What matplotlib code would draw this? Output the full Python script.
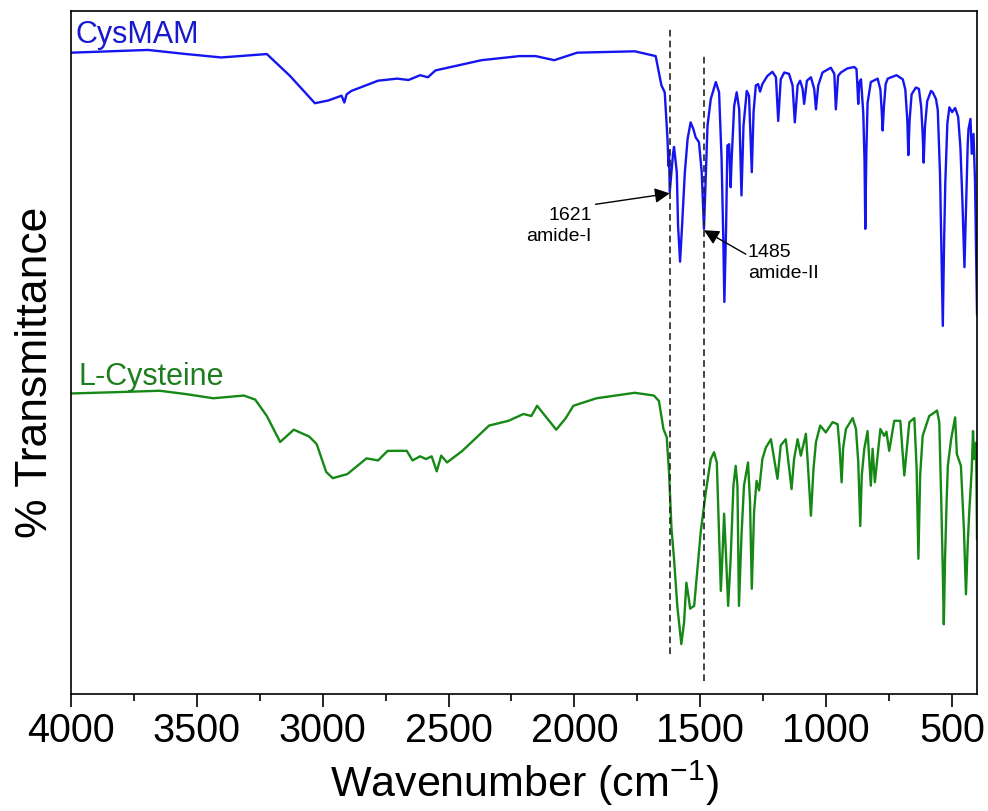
"""FTIR transmittance spectra of CysMAM and L-Cysteine with amide band markers."""

import matplotlib.pyplot as plt
from matplotlib.ticker import MultipleLocator

plt.rcParams["font.family"] = ["Liberation Sans", "DejaVu Sans"]
plt.rcParams["mathtext.fontset"] = "custom"
plt.rcParams["mathtext.rm"] = "Liberation Sans"

# Spectra, offset vertically (arbitrary transmittance units)
cysmam_wn = [
    4000, 3694, 3543, 3403, 3222, 3130, 3031, 2978, 2925, 2914, 2905, 2886,
    2780, 2704, 2659, 2613, 2582, 2552, 2369, 2218, 2154, 2080, 1989, 1760,
    1677, 1654, 1641, 1630, 1626, 1624, 1621, 1608, 1604, 1593, 1588, 1580,
    1572, 1561, 1550, 1538, 1527, 1518, 1505, 1494, 1485, 1471, 1458, 1438,
    1425, 1415, 1408, 1404, 1397, 1392, 1385, 1379, 1375, 1365, 1355, 1345,
    1336, 1328, 1315, 1306, 1295, 1288, 1279, 1270, 1262, 1253, 1233, 1213,
    1199, 1190, 1180, 1166, 1147, 1133, 1124, 1113, 1103, 1093, 1087, 1076,
    1060, 1047, 1040, 1031, 1014, 981, 967, 961, 952, 941, 915, 888,
    879, 876, 872, 868, 861, 852, 847, 844, 840, 835, 822, 795,
    784, 779, 775, 770, 763, 755, 720, 695, 685, 677, 673, 668,
    660, 643, 631, 622, 616, 612, 607, 598, 583, 576, 563, 556,
    547, 543, 536, 531, 526, 518, 510, 499, 487, 475, 466, 458,
    450, 443, 437, 434, 426, 421, 414, 408, 400,
]
cysmam_t = [
    93.9, 94.3, 93.7, 93.2, 93.7, 90.5, 86.5, 86.9, 87.6, 86.6, 87.8, 88.3,
    89.8, 90.1, 89.9, 90.6, 90.3, 91.3, 92.8, 93.4, 93.4, 92.8, 93.9, 94.1,
    93.4, 89.1, 88.1, 81.3, 77.3, 79.5, 73.5, 79.1, 80.1, 76.4, 68.6, 63.3,
    68.6, 76.4, 81.3, 83.7, 82.7, 81.5, 80.8, 76.4, 68.1, 83.2, 87.1, 89.6,
    88.1, 78.3, 66.2, 57.4, 68.6, 80.3, 80.5, 74.2, 78.3, 86.1, 88.1, 85.6,
    73.0, 83.2, 88.3, 87.6, 76.4, 85.2, 89.1, 89.3, 88.2, 89.3, 90.5, 91.1,
    90.3, 83.9, 90.0, 91.0, 90.8, 89.1, 83.7, 89.1, 89.8, 88.6, 86.4, 89.8,
    90.3, 88.6, 85.6, 89.1, 91.0, 91.7, 90.8, 85.6, 90.5, 91.0, 91.6, 91.8,
    91.5, 89.5, 86.4, 89.5, 90.0, 85.0, 78.0, 68.1, 79.0, 86.5, 89.6, 90.1,
    88.5, 85.5, 82.5, 86.0, 89.3, 90.1, 90.6, 90.0, 88.5, 84.0, 78.9, 84.0,
    87.8, 88.8, 88.6, 86.0, 82.0, 77.8, 83.0, 86.8, 88.3, 88.1, 87.1, 85.5,
    76.0, 68.0, 53.9, 66.0, 75.0, 83.5, 85.9, 85.2, 85.8, 84.5, 80.0, 72.0,
    62.5, 72.0, 80.5, 82.7, 84.2, 79.1, 82.0, 75.0, 55.6,
]

lcys_wn = [
    4000, 3815, 3648, 3541, 3435, 3313, 3268, 3222, 3169, 3115, 3054, 3024,
    2986, 2960, 2902, 2826, 2780, 2742, 2666, 2643, 2613, 2590, 2567, 2547,
    2529, 2506, 2445, 2339, 2262, 2202, 2171, 2148, 2133, 2072, 2034, 2004,
    1912, 1760, 1684, 1664, 1646, 1633, 1624, 1614, 1604, 1591, 1575, 1564,
    1555, 1547, 1540, 1524, 1498, 1478, 1458, 1445, 1434, 1425, 1418, 1410,
    1405, 1398, 1389, 1379, 1368, 1359, 1352, 1346, 1336, 1326, 1310, 1302,
    1295, 1286, 1276, 1266, 1253, 1239, 1219, 1206, 1193, 1180, 1160, 1146,
    1137, 1127, 1113, 1100, 1080, 1071, 1060, 1050, 1040, 1023, 1001, 974,
    954, 946, 938, 932, 921, 894, 881, 872, 864, 858, 848, 835,
    822, 815, 806, 784, 769, 760, 749, 729, 705, 689, 669, 649,
    640, 633, 626, 616, 590, 570, 559, 550, 542, 536, 532, 527,
    521, 516, 503, 487, 480, 464, 452, 444, 437, 431, 421, 416,
    411, 404, 400,
]
lcys_t = [
    44.0, 44.2, 44.4, 43.9, 43.3, 43.7, 43.1, 40.7, 36.9, 38.7, 37.7, 36.6,
    32.5, 31.6, 32.2, 34.5, 34.2, 35.6, 35.6, 34.2, 34.8, 34.4, 34.8, 32.6,
    34.9, 33.9, 35.6, 39.3, 40.0, 41.0, 40.7, 42.2, 41.5, 38.7, 40.4, 42.2,
    43.3, 44.1, 43.7, 42.9, 38.8, 37.6, 32.5, 24.2, 19.8, 12.9, 7.3, 10.5,
    16.3, 14.4, 12.5, 12.9, 23.7, 29.5, 34.4, 35.4, 33.9, 23.2, 15.1, 21.7,
    26.4, 20.7, 12.9, 19.8, 30.5, 33.4, 30.5, 12.9, 23.2, 30.5, 33.9, 28.1,
    15.4, 26.6, 31.2, 29.8, 34.4, 36.1, 37.3, 34.4, 31.5, 36.4, 37.3, 32.9,
    30.0, 34.4, 37.3, 34.9, 38.1, 32.9, 26.1, 32.9, 36.9, 39.3, 38.3, 39.8,
    39.5, 36.0, 31.0, 36.0, 38.8, 40.4, 38.8, 34.0, 24.6, 32.0, 35.9, 38.5,
    30.5, 35.9, 31.0, 38.8, 37.8, 38.4, 35.6, 40.0, 40.0, 32.0, 39.8, 40.4,
    33.0, 19.8, 32.0, 37.8, 40.7, 41.2, 41.5, 39.8, 28.0, 18.0, 10.2, 20.0,
    28.0, 33.4, 37.3, 40.5, 35.1, 33.4, 24.0, 14.6, 22.0, 26.6, 32.9, 38.5,
    34.4, 36.8, 22.7,
]

amide_wn = [1621, 1485]
amide_names = ["amide-I", "amide-II"]

fig = plt.figure(figsize=(9.88, 8.12), dpi=100)
ax = fig.add_axes([0.0719, 0.1441, 0.9170, 0.8411])

ax.plot(cysmam_wn, cysmam_t, color="#1515f0", lw=1.7, solid_joinstyle="round")
ax.plot(lcys_wn, lcys_t, color="#168816", lw=1.7, solid_joinstyle="round")

ax.text(3984, 95.5, "CysMAM", color="#1818cc", fontsize=22, va="baseline")
ax.text(3972, 45.4, "L-Cysteine", color="#1e7e1e", fontsize=22, va="baseline")

# reference lines through the amide bands
ax.plot([amide_wn[0]] * 2, [5.9, 97.4], ls=(0, (4, 2.5)), color="#222222", lw=1.2)
ax.plot([amide_wn[1]] * 2, [1.9, 93.7], ls=(0, (4, 2.5)), color="#222222", lw=1.2)

arrow = dict(arrowstyle="-|>,head_length=0.9,head_width=0.45", color="black",
             lw=1.0, shrinkA=0, shrinkB=0)
ax.annotate("", xy=(amide_wn[0], 73.3), xytext=(1916, 71.7), arrowprops=arrow)
ax.text(1931, 68.7, f"{amide_wn[0]}\n{amide_names[0]}", fontsize=14,
        ha="right", va="center", multialignment="right", linespacing=1.3)
ax.annotate("", xy=(amide_wn[1], 67.9), xytext=(1319, 64.4), arrowprops=arrow)
ax.text(1311, 63.2, f"{amide_wn[1]}\n{amide_names[1]}", fontsize=14,
        ha="left", va="center", linespacing=1.3)

ax.set_xlim(4000, 400)
ax.set_ylim(0, 100)
ax.xaxis.set_major_locator(MultipleLocator(500))
ax.xaxis.set_minor_locator(MultipleLocator(250))
ax.set_yticks([])
ax.tick_params(axis="x", which="major", direction="out", length=9.5, width=1.2,
               labelsize=28.5, pad=3)
ax.tick_params(axis="x", which="minor", direction="out", length=5, width=1.2)
for sp in ax.spines.values():
    sp.set_linewidth(1.2)

ax.set_xlabel(r"Wavenumber (cm$^{\mathregular{-1}}$)", fontsize=31, labelpad=6)
ax.set_ylabel("% Transmittance", fontsize=32)
ax.yaxis.set_label_coords(-0.017, 0.473)

fig.savefig("out.png", dpi=100)
